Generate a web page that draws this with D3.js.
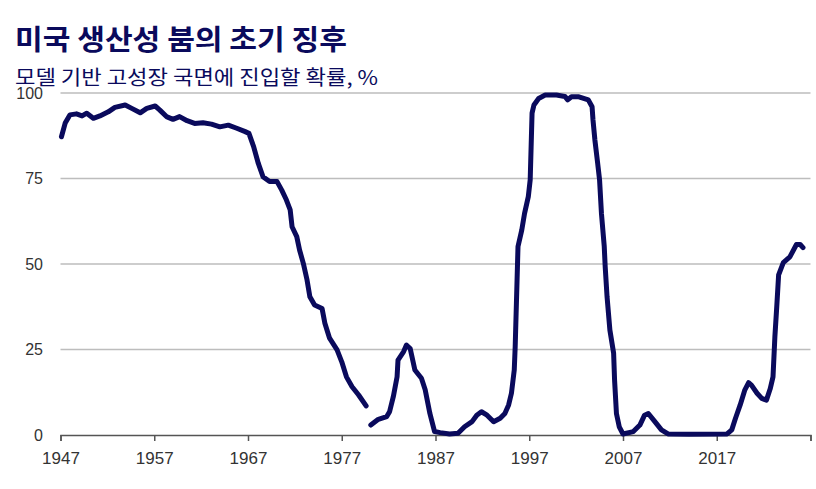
<!DOCTYPE html>
<html>
<head>
<meta charset="utf-8">
<script src="https://cdn.jsdelivr.net/npm/d3@7"></script>
<style>
  body { margin: 0; background: #fff; }
  svg { display: block; }
</style>
</head>
<body>
<svg width="816" height="489"></svg>
<script>
var titleText = "미국 생산성 붐의 초기 징후";
var subtitleText = "모델 기반 고성장 국면에 진입할 확률, %";

var yTicks = [0, 25, 50, 75, 100];
var xTicks = [1947, 1957, 1967, 1977, 1987, 1997, 2007, 2017, 2027];
var xLabels = ["1947", "1957", "1967", "1977", "1987", "1997", "2007", "2017", ""];

// probability readings (null = break in the series)
var years = [1947.1, 1947.5, 1948.0, 1948.7, 1949.3, 1949.8, 1950.5, 1951.2, 1952.1, 1952.8,
    1953.9, 1954.6, 1955.5, 1956.2, 1957.1, 1957.6, 1958.3, 1959.0, 1959.7, 1960.5,
    1961.3, 1962.2, 1963.1, 1964.0, 1964.9, 1965.8, 1966.7, 1967.1, 1967.6, 1968.1,
    1968.6, 1969.3, 1970.1, 1970.6, 1971.1, 1971.5, 1971.7, 1972.2, 1972.5, 1972.9,
    1973.3, 1973.6, 1974.1, 1974.9, 1975.2, 1975.7, 1976.5, 1977.0, 1977.5, 1978.1,
    1978.8, 1979.6, 1979.8,
    1980.1, 1980.9, 1981.8, 1982.1, 1982.5, 1982.9, 1983.0, 1983.6, 1983.9, 1984.3,
    1984.8, 1985.5, 1985.9, 1986.4, 1986.9, 1987.5, 1988.5, 1989.4, 1990.1, 1990.9,
    1991.4, 1991.9, 1992.5, 1993.2, 1993.9, 1994.4, 1994.8, 1995.1, 1995.4, 1995.5,
    1995.6, 1995.7, 1995.8, 1996.2, 1996.5, 1996.9, 1997.1, 1997.2, 1997.3, 1997.5,
    1998.0, 1998.7, 1999.9, 2000.8, 2001.1, 2001.5, 2002.3, 2003.3, 2003.7, 2003.8,
    2004.0, 2004.3, 2004.5, 2004.7, 2005.0, 2005.1, 2005.3, 2005.6, 2006.0, 2006.1,
    2006.3, 2006.6, 2007.0, 2008.1, 2008.8, 2009.3, 2009.7, 2010.4, 2011.1, 2011.8,
    2014.0, 2018.1, 2018.6, 2019.0, 2019.5, 2020.0, 2020.4, 2020.7, 2021.3, 2021.8,
    2022.3, 2022.7, 2023.0, 2023.1, 2023.2, 2023.4, 2023.6, 2024.1, 2024.8, 2025.5,
    2025.9, 2026.2];
var probs = [87.2, 91.2, 93.6, 93.9, 93.3, 94.1, 92.6, 93.3, 94.5, 95.8,
    96.5, 95.5, 94.2, 95.5, 96.2, 95.0, 93.1, 92.3, 93.1, 91.9,
    91.1, 91.3, 90.9, 90.1, 90.6, 89.7, 88.7, 88.2, 84.3, 79.4,
    75.5, 74.1, 74.1, 71.6, 68.7, 65.8, 60.9, 58.0, 54.1, 50.2,
    45.3, 40.4, 38.0, 37.0, 32.7, 28.3, 24.9, 21.4, 17.0, 14.1,
    11.7, 8.5, null,
    2.9, 4.6, 5.4, 6.8, 11.2, 17.0, 21.9, 24.4, 26.3, 25.3,
    19.0, 16.6, 13.2, 6.3, 1.0, 0.7, 0.3, 0.5, 2.4, 3.9,
    5.8, 6.8, 5.8, 3.9, 4.9, 6.3, 8.8, 12.2, 19.0, 25.8,
    35.6, 45.3, 55.1, 59.9, 64.8, 69.7, 74.6, 84.3, 94.1, 96.5,
    98.4, 99.4, 99.4, 99.0, 98.0, 98.9, 98.9, 98.0, 96.0, 92.1,
    86.3, 79.4, 74.6, 64.8, 55.1, 49.2, 40.4, 30.7, 23.9, 16.1,
    6.3, 2.4, 0.3, 1.0, 2.9, 5.8, 6.3, 3.9, 1.5, 0.3,
    0.2, 0.3, 1.5, 4.9, 8.8, 13.2, 15.3, 14.6, 12.2, 10.7,
    10.2, 13.5, 17.0, 22.8, 28.7, 37.5, 46.8, 50.4, 52.1, 55.7,
    55.7, 54.8];

var navy = "#0a0a5c";
var svg = d3.select("svg");

var x = d3.scaleLinear().domain([1947, 2027]).range([60.5, 810.5]);
var y = d3.scaleLinear().domain([0, 100]).range([435, 93]);

// titles
svg.append("text")
    .attr("x", 15).attr("y", 50)
    .attr("textLength", 332)
    .attr("lengthAdjust", "spacingAndGlyphs")
    .style("font-family", "'Noto Sans CJK KR', sans-serif")
    .style("font-size", "28px")
    .style("font-weight", "bold")
    .style("fill", navy)
    .text(titleText);

svg.append("text")
    .attr("x", 15).attr("y", 85)
    .attr("textLength", 363)
    .attr("lengthAdjust", "spacingAndGlyphs")
    .style("font-family", "'Noto Sans CJK KR', sans-serif")
    .style("font-size", "20px")
    .style("fill", navy)
    .text(subtitleText);

// gridlines
svg.append("g").selectAll("line")
    .data(yTicks.slice(1))
    .enter()
    .append("line")
    .attr("x1", x(1947)).attr("x2", x(2027))
    .attr("y1", function(d){return y(d);})
    .attr("y2", function(d){return y(d);})
    .style("stroke", "#bdbdbd")
    .style("stroke-width", "1.5px");

// y labels
svg.append("g").selectAll("text")
    .data(yTicks)
    .enter()
    .append("text")
    .attr("x", 43)
    .attr("y", function(d){return y(d);})
    .attr("dy", "0.35em")
    .attr("text-anchor", "end")
    .style("font-family", "'Liberation Sans', Arial, sans-serif")
    .style("font-size", "16px")
    .style("fill", "#333")
    .text(function(d){return d;});

// x axis
var xAxis = d3.axisBottom(x)
    .tickValues(xTicks)
    .tickSize(6)
    .tickFormat(function(d, i){return xLabels[i];});

var gx = svg.append("g")
    .attr("transform", "translate(0," + y(0) + ")")
    .call(xAxis);
gx.select(".domain").style("stroke", "#555").style("stroke-width", "1.5px");
gx.selectAll(".tick line").style("stroke", "#555").style("stroke-width", "1.5px");
gx.selectAll(".tick text")
    .attr("y", 17)
    .attr("dy", "0.71em")
    .style("font-family", "'Liberation Sans', Arial, sans-serif")
    .style("font-size", "17px")
    .style("fill", "#333");

// series
var data = years.map(function(yr, i){return {year: yr, value: probs[i]};});

var line = d3.line()
    .defined(function(d){return d.value !== null;})
    .x(function(d){return x(d.year);})
    .y(function(d){return y(d.value);});

svg.append("path")
    .datum(data)
    .attr("d", line)
    .style("fill", "none")
    .style("stroke", navy)
    .style("stroke-width", "5px")
    .style("stroke-linejoin", "round")
    .style("stroke-linecap", "round");
</script>
</body>
</html>
